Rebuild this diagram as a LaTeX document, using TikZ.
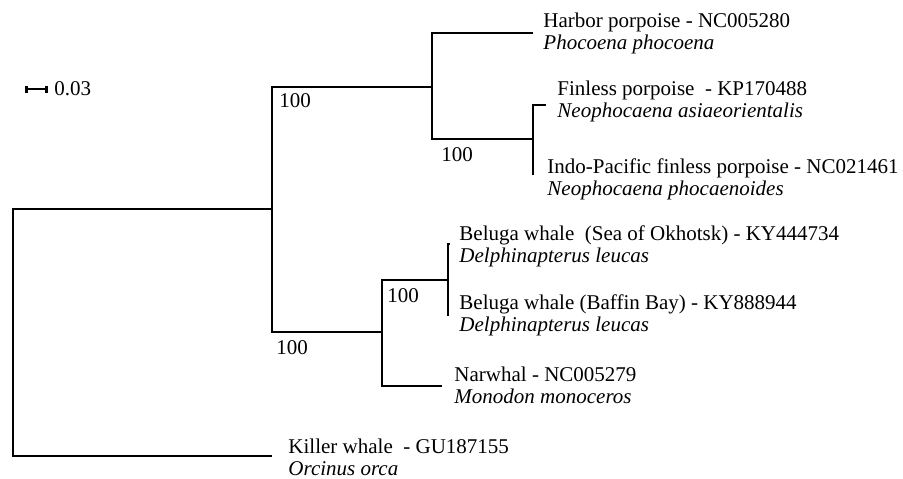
\documentclass[tikz,border=0pt]{standalone}
\usepackage{fontspec}
\setmainfont{Liberation Serif}
\usetikzlibrary{arrows.meta}
\begin{document}
\begin{tikzpicture}[x=0.5pt, y=-0.5pt, line width=1.45pt,
    taxon/.style={anchor=west, align=left, inner sep=0pt, font=\fontsize{10.5}{11}\selectfont},
    boot/.style={inner sep=0pt, font=\fontsize{10.5}{12}\selectfont}]
    \useasboundingbox (0,0) rectangle (903,478);

    % === Scala ===
    \coordinate (sbL) at (25,89);
    \coordinate (sbR) at (48,89);
    \draw[{Bar[width=3.5pt]}-{Bar[width=3.5pt]}] (sbL) -- (sbR);
    \node[taxon] (sblab) at (53,89) {0.03};

    % === Nodi interni ===
    \coordinate (root)  at (13,332);
    \coordinate (nOdon) at (272,209);
    \coordinate (nPho)  at (432,87);
    \coordinate (nNeo)  at (533,139);
    \coordinate (nMon)  at (382,332);
    \coordinate (nDel)  at (448,280);

    % === Foglie ===
    \coordinate (tHarbor)  at (533,33);
    \coordinate (tFinless) at (546,105);
    \coordinate (tIndo)    at (533,175);
    \coordinate (tBelOk)   at (450,244);
    \coordinate (tBelBa)   at (448,316);
    \coordinate (tNarwhal) at (442,386);
    \coordinate (tKiller)  at (272,456);

    % Rami
    \draw (root) |- (nOdon);
    \draw (root) |- (tKiller);
    \draw (nOdon) |- (nPho);
    \draw (nOdon) |- (nMon);
    \draw (nPho) |- (tHarbor);
    \draw (nPho) |- (nNeo);
    \draw (nNeo) |- (tFinless);
    \draw (nNeo) |- (tIndo);
    \draw (nMon) |- (nDel);
    \draw (nMon) |- (tNarwhal);
    \draw (nDel) |- (tBelOk);
    \draw (nDel) |- (tBelBa);

    % Bootstrap
    \node[boot] (bOdon) at (295,101) {100};
    \node[boot] (bPho)  at (457,155) {100};
    \node[boot] (bDel)  at (403,296) {100};
    \node[boot] (bMon)  at (292,348) {100};

    % === Etichette ===
    \node[taxon] (lHarbor)  at (542,33)  {Harbor porpoise - NC005280\\\textit{Phocoena phocoena}};
    \node[taxon] (lFinless) at (556,101) {Finless porpoise\ \ - KP170488\\\textit{Neophocaena asiaeorientalis}};
    \node[taxon] (lIndo)    at (546,179) {Indo-Pacific finless porpoise - NC021461\\\textit{Neophocaena phocaenoides}};
    \node[taxon] (lBelOk)   at (458,246) {Beluga whale\ \ (Sea of Okhotsk) - KY444734\\\textit{Delphinapterus leucas}};
    \node[taxon] (lBelBa)   at (458,315) {Beluga whale (Baffin Bay) - KY888944\\\textit{Delphinapterus leucas}};
    \node[taxon] (lNarwhal) at (453,385) {Narwhal - NC005279\\\textit{Monodon monoceros}};
    \node[taxon] (lKiller)  at (287,457) {Killer whale\ \ - GU187155\\\textit{Orcinus orca}};
\end{tikzpicture}
\end{document}
